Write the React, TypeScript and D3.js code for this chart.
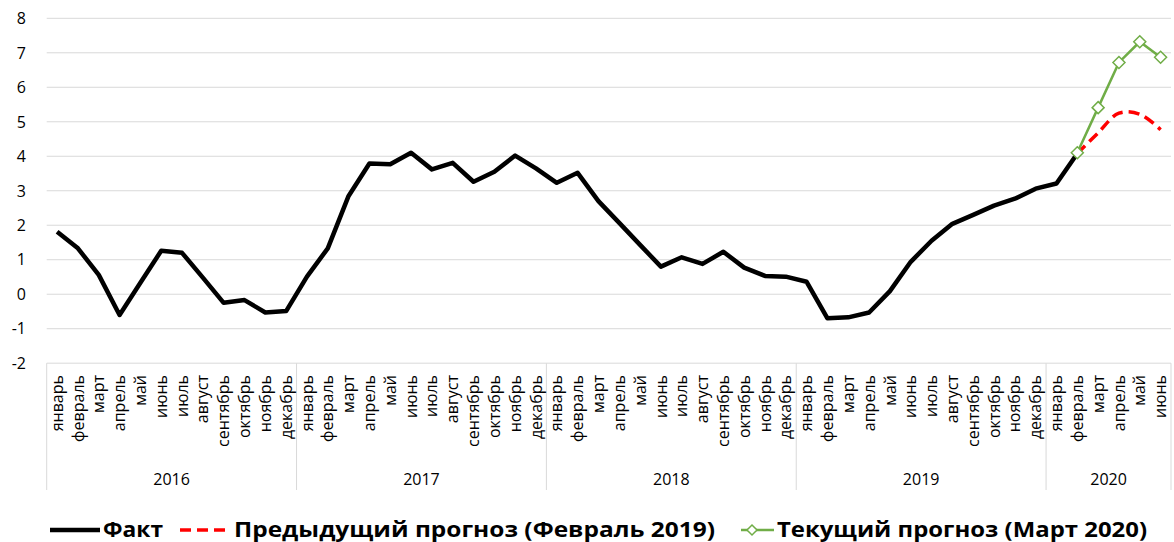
import React from "react";
import * as d3 from "d3";

const monthNames = ["январь","февраль","март","апрель","май","июнь","июль","август","сентябрь","октябрь","ноябрь","декабрь"];
const years = ["2016","2017","2018","2019","2020"];
const monthsPerYear = [12, 12, 12, 12, 6];

const factValues: (number | null)[] = [
  1.81, 1.33, 0.56, -0.60, 0.33, 1.26, 1.20, 0.48, -0.25, -0.17, -0.53, -0.49,
  0.51, 1.33, 2.85, 3.79, 3.77, 4.10, 3.62, 3.81, 3.26, 3.55, 4.02, 3.65,
  3.23, 3.52, 2.70, 2.07, 1.43, 0.80, 1.07, 0.88, 1.23, 0.77, 0.53, 0.51,
  0.36, -0.70, -0.67, -0.53, 0.09, 0.94, 1.55, 2.04, 2.30, 2.57, 2.77, 3.06,
  3.21, 4.08, null, null, null, null,
];
// forecasts start at index 49 (февраль 2020)
const forecastStart = 49;
const prevForecast = [4.08, 4.68, 5.25, 5.22, 4.77];
const currForecast = [4.10, 5.41, 6.72, 7.32, 6.87];
const yTicks = [-2, -1, 0, 1, 2, 3, 4, 5, 6, 7, 8];

const legendItems = ["Факт", "Предыдущий прогноз (Февраль 2019)", "Текущий прогноз (Март 2020)"];

const W = 1174, H = 542;
const FONT = "'Open Sans', 'DejaVu Sans', sans-serif";

export default function App() {
  const categories: { month: string; year: string }[] = [];
  years.forEach((y, yi) => {
    for (let m = 0; m < monthsPerYear[yi]; m++) categories.push({ month: monthNames[m], year: y });
  });
  const idx = categories.map((_, i) => i);

  const x = d3.scaleBand<number>().domain(idx).range([46.7, 1171]).padding(0);
  const cx = (i: number) => (x(i) as number) + x.bandwidth() / 2;
  const y = d3.scaleLinear().domain([-2, 8]).range([363.2, 18.3]);

  const factLine = d3
    .line<number | null>()
    .defined((d) => d !== null)
    .x((_, i) => cx(i))
    .y((d) => y(d as number));

  const prevLine = d3
    .line<number>()
    .x((_, i) => cx(forecastStart + i))
    .y((d) => y(d))
    .curve(d3.curveCatmullRom.alpha(0.5));

  const currLine = d3
    .line<number>()
    .x((_, i) => cx(forecastStart + i))
    .y((d) => y(d));

  // year boundaries
  const bounds: number[] = [];
  let acc = 0;
  bounds.push(x(0) as number);
  monthsPerYear.forEach((n) => {
    acc += n;
    bounds.push(acc < categories.length ? (x(acc) as number) : 1171);
  });

  const axisTop = y(-2);
  const grid = "#d9d9d9";
  const green = "#70AD47";

  const diamond = (px: number, py: number, r: number) =>
    `M${px},${py - r}L${px + r},${py}L${px},${py + r}L${px - r},${py}Z`;

  const legendY = 530;
  const legendBase = 536.5;

  return (
    <div style={{ position: "absolute", left: 0, top: 0 }}>
      <svg width={W} height={H} style={{ display: "block", background: "#fff" }} fontFamily={FONT}>
        {/* gridlines */}
        {yTicks.map((t) => (
          <g key={t}>
            <line x1={46.7} x2={1171} y1={y(t)} y2={y(t)} stroke={grid} strokeWidth={1} />
            <text x={26} y={y(t)} dy="0.36em" textAnchor="end" fontSize={16} fill="#000">
              {t}
            </text>
          </g>
        ))}
        {/* category axis box lines */}
        {bounds.map((b, i) => (
          <line key={i} x1={b} x2={b} y1={axisTop} y2={490} stroke={grid} strokeWidth={1} />
        ))}
        {categories.map((c, i) => (
          <text
            key={i}
            transform={`translate(${cx(i)},375) rotate(-90)`}
            textAnchor="end"
            dy="0.35em"
            fontSize={16}
            fill="#000"
          >
            {c.month}
          </text>
        ))}
        {years.map((yr, i) => (
          <text key={yr} x={(bounds[i] + bounds[i + 1]) / 2} y={485} textAnchor="middle" fontSize={16} fill="#000">
            {yr}
          </text>
        ))}

        {/* series */}
        <path d={factLine(factValues) || ""} fill="none" stroke="#000" strokeWidth={4.5} strokeLinejoin="round" />
        <path
          d={prevLine(prevForecast) || ""}
          fill="none"
          stroke="#ff0000"
          strokeWidth={3.5}
          strokeDasharray="11,6"
        />
        <path d={currLine(currForecast) || ""} fill="none" stroke={green} strokeWidth={2.5} />
        {currForecast.map((v, i) => (
          <path
            key={i}
            d={diamond(cx(forecastStart + i), y(v), 6)}
            fill="#fff"
            stroke={green}
            strokeWidth={1.5}
          />
        ))}

        {/* legend */}
        <g fontSize={20.5} fontWeight="bold" fill="#000">
          <line x1={50} x2={100} y1={legendY} y2={legendY} stroke="#000" strokeWidth={4.5} />
          <text x={103} y={legendBase} textLength={60} lengthAdjust="spacingAndGlyphs">{legendItems[0]}</text>
          <line x1={180} x2={228} y1={legendY} y2={legendY} stroke="#ff0000" strokeWidth={3.5} strokeDasharray="11,6" />
          <text x={234} y={legendBase} textLength={481} lengthAdjust="spacingAndGlyphs">{legendItems[1]}</text>
          <line x1={741} x2={774} y1={legendY} y2={legendY} stroke={green} strokeWidth={2.5} />
          <path d={diamond(752, legendY, 5)} fill="#fff" stroke={green} strokeWidth={1.5} />
          <text x={777} y={legendBase} textLength={370} lengthAdjust="spacingAndGlyphs">{legendItems[2]}</text>
        </g>
      </svg>
    </div>
  );
}
